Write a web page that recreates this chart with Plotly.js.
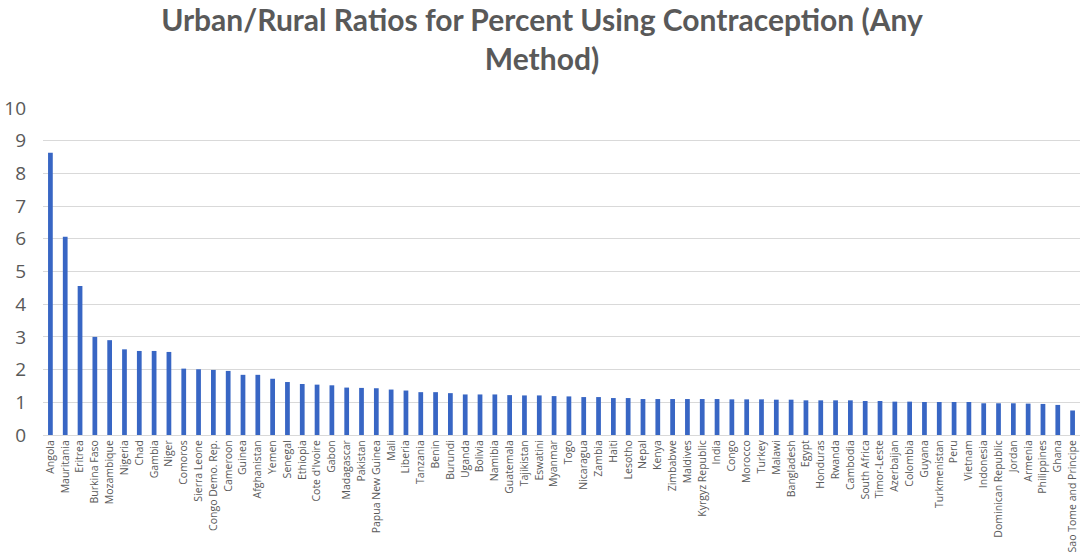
<!DOCTYPE html>
<html>
<head>
<meta charset="utf-8">
<script src="https://cdn.plot.ly/plotly-3.0.1.min.js"></script>
<style>html,body{margin:0;padding:0;background:#fff;}#chart{width:1084px;height:558px;}</style>
</head>
<body>
<div id="chart"></div>
<script>
var countries = ["Angola","Mauritania","Eritrea","Burkina Faso","Mozambique","Nigeria","Chad","Gambia","Niger","Comoros","Sierra Leone","Congo Demo. Rep.","Cameroon","Guinea","Afghanistan","Yemen","Senegal","Ethiopia","Cote d'Ivoire","Gabon","Madagascar","Pakistan","Papua New Guinea","Mali","Liberia","Tanzania","Benin","Burundi","Uganda","Bolivia","Namibia","Guatemala","Tajikistan","Eswatini","Myanmar","Togo","Nicaragua","Zambia","Haiti","Lesotho","Nepal","Kenya","Zimbabwe","Maldives","Kyrgyz Republic","India","Congo","Morocco","Turkey","Malawi","Bangladesh","Egypt","Honduras","Rwanda","Cambodia","South Africa","Timor-Leste","Azerbaijan","Colombia","Guyana","Turkmenistan","Peru","Vietnam","Indonesia","Dominican Republic","Jordan","Armenia","Philippines","Ghana","Sao Tome and Principe"];
var ratios = [8.63,6.06,4.56,3.00,2.90,2.62,2.57,2.57,2.54,2.03,2.01,1.99,1.96,1.84,1.84,1.72,1.62,1.56,1.54,1.52,1.45,1.44,1.43,1.39,1.36,1.31,1.31,1.28,1.24,1.24,1.24,1.22,1.21,1.21,1.19,1.18,1.16,1.16,1.13,1.13,1.10,1.10,1.10,1.10,1.10,1.10,1.09,1.09,1.09,1.08,1.08,1.06,1.06,1.06,1.06,1.04,1.04,1.02,1.02,1.01,1.01,1.01,1.01,0.97,0.97,0.97,0.96,0.95,0.92,0.75];
var yTicks = [0,1,2,3,4,5,6,7,8,9,10];
var titleText = "Urban/Rural Ratios for Percent Using Contraception (Any<br>Method)";

Plotly.newPlot("chart", [{
  type: "bar",
  x: countries,
  y: ratios,
  marker: {color: "#3866C4"},
  hoverinfo: "x+y"
}], {
  width: 1084, height: 558,
  margin: {l: 43, r: 4, t: 108, b: 123},
  paper_bgcolor: "#fff", plot_bgcolor: "#fff",
  bargap: 0.68,
  title: {text: titleText, x: 0.5, xanchor: "center", y: 0.945, yanchor: "top",
    font: {family: "Lato", size: 30, color: "#595959", weight: "bold"}},
  xaxis: {type: "category", tickangle: -90, tickfont: {family: "Open Sans", size: 10.5, color: "#595959"},
    showgrid: false, ticks: "", showline: true, linecolor: "#d9d9d9", linewidth: 1, automargin: false},
  yaxis: {range: [0, 10], tickvals: yTicks, ticktext: yTicks.map(String), showgrid: true, gridcolor: "#d9d9d9", gridwidth: 1,
    zeroline: false, showline: false, ticks: "", ticklabelstandoff: 16,
    tickfont: {family: "Open Sans", size: 19, color: "#595959"}, automargin: false},
  showlegend: false
}, {displayModeBar: false, staticPlot: true});
</script>
</body>
</html>
